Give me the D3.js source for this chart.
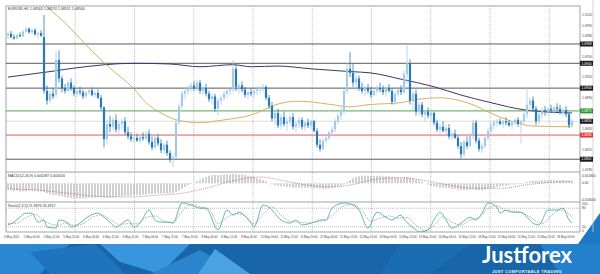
<!DOCTYPE html>
<html>
<head>
<meta charset="utf-8" />
<script src="https://cdn.jsdelivr.net/npm/d3@7"></script>
<style>
  body { margin: 0; background: #fff; }
  svg { display: block; font-family: "Liberation Sans", "DejaVu Sans", sans-serif; }
</style>
</head>
<body>
<div id="chart"></div>
<script>
// ---- data (candle prices in pips above 1.0800) ----
var BASE = 1.0800, PIP = 0.0001;

var bars = [
  [180,186,175,183],[183,187,176,178],[178,182,174,176],[176,183,175,181],[181,185,178,179],[179,188,178,186],
  [186,193,184,190],[190,192,183,185],[185,190,182,188],[188,191,180,182],[182,186,176,184],[184,188,178,180],
  [178,210,96,100],[100,108,80,86],[86,100,82,96],[96,104,88,92],[95,158,90,145],[145,159,112,118],
  [118,122,98,104],[104,110,96,100],[100,116,98,112],[112,118,100,104],
  [104,108,92,96],[96,103,90,100],[100,106,94,98],[98,102,88,92],[92,100,90,98],[98,104,95,101],
  [101,105,92,94],[94,100,90,97],[97,102,88,90],
  [90,94,72,76],[76,78,18,30],[30,58,22,52],[52,64,40,48],[48,62,42,58],[58,66,40,44],[44,56,34,52],
  [52,60,44,56],[56,62,36,40],[40,48,30,34],
  [34,40,26,30],[30,36,24,32],[32,38,26,28],[28,35,24,33],[33,40,28,31],
  [31,42,28,38],[38,44,22,26],[26,34,14,18],[18,36,16,32],[32,38,20,24],[24,30,10,14],[14,26,8,22],
  [22,28,6,10],[10,14,-4,0],[2,8,-10,4],
  [4,58,2,54],[54,82,50,78],[78,100,74,96],[96,104,88,100],[100,108,94,104],[104,112,98,108],
  [108,114,100,104],[104,116,100,112],
  [112,116,96,100],[100,108,94,104],[104,110,92,96],[96,100,84,88],[88,96,80,92],[92,96,70,74],
  [74,90,64,86],[86,94,80,90],[90,100,86,96],[96,104,90,100],[100,106,94,102],
  [102,145,98,132],[132,138,100,106],[106,112,96,108],[108,114,98,102],
  [102,106,90,94],[94,100,88,98],[98,104,92,96],[96,102,90,100],[100,106,94,102],[102,108,96,104],
  [104,110,98,106],[106,108,86,90],[90,94,74,78],[78,84,56,60],[60,72,50,68],[68,74,46,50],
  [50,66,44,62],[62,70,48,52],[52,60,42,56],[56,66,50,62],[62,68,44,48],[48,56,40,52],
  [52,62,46,58],[58,62,44,48],[48,56,42,54],[54,60,46,50],[50,58,44,56],[56,58,40,42],
  [42,46,18,22],[22,30,12,16],[16,32,14,28],[28,36,24,32],[32,42,28,40],[40,48,34,44],
  [44,60,40,56],[56,68,52,64],[64,76,58,70],
  [70,104,66,100],[100,140,96,132],[132,156,120,126],[126,140,106,112],[112,124,100,118],
  [118,122,100,104],[104,112,96,100],[100,108,92,104],[104,110,96,100],
  [100,106,90,94],[94,104,92,100],[100,108,96,104],[104,112,98,102],[102,108,94,98],[98,106,92,104],
  [104,110,98,100],[100,104,80,84],[84,100,80,96],[96,106,92,102],[102,108,94,98],
  [98,130,96,124],[124,168,110,140],[140,146,80,86],[86,100,72,96],[96,102,64,70],[70,84,64,80],
  [80,84,62,66],[66,72,56,70],[70,76,60,64],[64,72,58,68],[68,70,50,54],
  [54,58,40,44],[44,52,36,48],[48,56,40,42],[42,50,34,46],[46,52,30,34],[34,42,28,38],
  [38,44,30,32],[32,36,16,20],[20,26,2,8],[8,30,4,26],[26,34,16,20],[20,40,18,36],
  [36,58,30,54],[54,58,24,28],[28,32,12,16],[16,24,10,20],[20,36,16,32],[32,46,28,42],
  [42,54,38,50],[50,58,44,54],
  [54,60,48,56],[56,60,50,52],[52,58,46,56],[56,62,50,54],[54,58,48,50],[50,56,44,54],
  [54,60,50,58],[58,62,48,52],
  [52,58,24,56],[56,70,50,66],[66,104,60,80],[80,90,70,86],[86,92,70,74],[74,78,50,56],
  [56,70,52,66],[66,76,60,72],
  [72,78,64,70],[70,76,64,74],[74,80,68,72],[72,78,66,76],[76,82,70,74],[74,80,66,68],
  [68,76,64,72],[72,78,62,66],[66,68,46,50],[50,60,48,56]
];

// moving averages, read at candle indices (pips above 1.0800)
var maFastAt = [12,13,21,27,34,42,46,51,57,64,72,81,90,96,101,108,114,120,131,137,144,153,164,175,188];
var maFast   = [226,222,190,162,133,103,83,68,57,54,58,65,81,85,84,80,77,80,83,88,90,83,62,49,48];
var maSlowAt = [0,14,22,42,54,64,75,81,90,101,114,121,131,142,151,160,173,188];
var maSlow   = [120,128,133,140,139,135,138,135,136,132,128,126,117,106,94,84,72,68];

// horizontal levels
var levels = [1.0968, 1.0940, 1.0904, 1.0801];
var greenLevel = 1.0871, redLevel = 1.0836;
var lastPrice = 1.0856;
var priceTicks = [1.0785,1.0800,1.0815,1.0830,1.0845,1.0860,1.0875,1.0890,1.0905,1.0920,1.0935,1.0950,1.0965,1.0980,1.0995,1.1010];

// MACD histogram, units of 0.0001
var macdHist = [-10,-11,-12,-12,-13, -13,-13,-12,-12,-12,-13,-13,
  -14,-16,-18,-19,-19,-20,-21,-22,-23, -24,-24,-24,-24,-24,-24,-23,-23,-23,-22,
  -22,-23,-23,-23, -22,-22,-21,-21,-20,-20,-20,-19,-19,-19,-18,
  -18,-17,-17,-17,-16,-16,-16,-16,-16,-16, -14,-12,-9,-6,-3,-1,1,3,
  5,8,10,12,13,13,13,13,14,14,14,15, 15,14,14,13,12,11,10,8,7,5,3,
  0,-2,-3,-4,-5,-5,-6,-6,-7,-7,-7,-7,-7,-7, -7,-8,-8,-8,-9,-9,-8,-7,-6,-5,-4,
  -2,2,5,8,10,11,12,12,12,12, 12,12,12,11,11,11,10,9,9,8, 9,10,9,8,6, 4,2,0,-2,-4,-5,
  -6,-7,-7,-8,-8,-9,-9,-10,-11,-11,-11,-10,-10,-11, -11,-11,-10,-9,-8,-7,-6,-5,-4,
  -4,-3,-2,-2,-1,-1, 1,2,3,4,4,4,5,5,5,5,5,5,5,5,4,4,3];
var macdSigAt = [0,10,20,30,40,50,58,66,75,84,92,100,108,115,122,131,138,146,155,165,172,180,188];
var macdSig   = [-9,-11,-16,-21,-22,-19,-16,-8,4,10,4,-3,-6,-2,6,9,5,-2,-8,-8,-3,1,3];

// stochastic
var stochKAt = [0,2,4,6,8,10,12,13,16,17,20,21,24,26,30,32,34,36,40,42,44,47,49,51,53,55,58,61,64,66,70,73,75,77,
  81,82,85,87,91,94,96,98,102,104,106,108,112,115,117,120,123,126,128,131,132,136,137,140,142,144,146,148,151,
  154,156,158,160,163,164,166,168,171,173,175,177,180,183,185,187,188];
var stochK   = [26,35,51,64,64,35,42,19,16,42,32,19,32,48,64,51,35,19,42,19,32,74,42,35,35,32,97,90,80,80,10,74,58,67,
  32,19,90,83,42,32,42,26,35,42,42,80,97,90,74,16,67,51,42,58,45,10,3,10,42,67,42,16,32,
  51,42,64,97,83,64,74,67,67,51,32,26,74,74,80,42,32];
var stochDAt = [0,3,6,9,12,14,17,19,22,25,28,31,34,37,40,43,46,49,52,55,58,61,64,67,70,73,76,79,82,85,88,91,94,97,
  100,103,106,109,112,115,118,121,124,127,130,133,136,139,142,145,148,151,154,157,160,163,166,169,172,175,178,181,184,187,188];
var stochD   = [30,32,50,60,40,30,25,32,25,30,50,58,45,28,30,30,50,55,38,34,70,92,84,78,30,50,62,55,30,60,84,58,38,35,
  32,36,42,65,88,92,72,38,48,55,48,50,25,8,25,52,35,26,42,50,80,88,72,70,62,45,30,55,74,62,50];

var timeLabels = ["4 May 2020","5 May 04:00","5 May 12:00","5 May 20:00","6 May 04:00","6 May 12:00","6 May 20:00",
  "7 May 04:00","7 May 12:00","7 May 20:00","8 May 04:00","8 May 12:00","8 May 20:00","11 May 04:00","11 May 12:00",
  "11 May 20:00","12 May 04:00","12 May 12:00","12 May 20:00","13 May 04:00","13 May 12:00","13 May 20:00",
  "14 May 04:00","14 May 12:00","14 May 20:00","15 May 04:00","15 May 12:00","15 May 20:00","18 May 04:00"];

// ---- layout ----
var width = 600, height = 274;
var L = 6, R = 580, AX = 593;
var mainTop = 6, mainBot = 172, macdBot = 202, stochBot = 232;

var svg = d3.select("#chart").append("svg")
  .attr("width", width).attr("height", height);

function price(v) { return BASE + v * PIP; }

var x = d3.scaleLinear().domain([0, bars.length - 1]).range([8, 572]);
var yP = d3.scaleLinear().domain([1.0785, 1.1010]).range([170.25, 15]);
var yM = d3.scaleLinear().domain([-0.0030, 0.0018]).range([202, 172]);
var yS = d3.scaleLinear().domain([0, 100]).range([233, 202]);
var xLab = d3.scaleLinear().domain([0, timeLabels.length - 1]).range([4, 557]);

var defs = svg.append("defs");
function clip(id, y0, y1) {
  defs.append("clipPath").attr("id", id).append("rect")
    .attr("x", L).attr("y", y0).attr("width", R - L).attr("height", y1 - y0);
}
clip("cMain", mainTop, mainBot);
clip("cMacd", mainBot, macdBot);
clip("cStoch", macdBot, stochBot);

// background banner
var banner = svg.append("g");
banner.append("rect").attr("x", 0).attr("y", 244).attr("width", width).attr("height", 30).attr("fill", "#1866a9");
var facets = [
  ["#2a88d2", [[0,244],[70,244],[40,274],[0,274]]],
  ["#1f74bd", [[30,252],[95,244],[125,274],[50,274]]],
  ["#3996dc", [[100,244],[190,244],[160,274],[120,262]]],
  ["#2b84cc", [[150,274],[200,250],[240,274]]],
  ["#4aa2e0", [[198,274],[215,249],[250,274]]],
  ["#1b6db2", [[400,244],[470,244],[430,274],[380,274]]],
  ["#2380cc", [[540,244],[600,244],[600,274],[560,274]]],
  ["#1f78c4", [[578,244],[600,213],[600,244]]]
];
facets.forEach(function(f) {
  banner.append("polygon").attr("points", f[1].join(" ")).attr("fill", f[0]);
});
banner.append("text").attr("x", 482).attr("y", 263).attr("fill", "#fff")
  .style("font-family", "Lato, 'Open Sans', sans-serif").style("font-weight", 700)
  .style("font-size", "22px").text("Justforex");
banner.append("text").attr("x", 492).attr("y", 272.5).attr("fill", "#e8f2fb")
  .style("font-size", "4px").style("font-weight", 700).style("letter-spacing", "0.35px")
  .text("JUST COMFORTABLE TRADING");

// frames
var frame = svg.append("g").attr("fill", "none").attr("stroke", "#8c8c8c").attr("stroke-width", 0.8);
frame.append("rect").attr("x", L).attr("y", mainTop).attr("width", R - L).attr("height", stochBot - mainTop);
[mainBot, macdBot].forEach(function(yy) {
  frame.append("line").attr("x1", L).attr("x2", R).attr("y1", yy).attr("y2", yy);
});
frame.append("line").attr("x1", AX).attr("x2", AX).attr("y1", 0).attr("y2", stochBot).attr("stroke", "#c8c8c8");

// vertical grid
var gridIdx = d3.range(3, timeLabels.length, 3);
svg.append("g").selectAll("line").data(gridIdx).enter().append("line")
  .attr("x1", function(k) { return xLab(k) + 12; })
  .attr("x2", function(k) { return xLab(k) + 12; })
  .attr("y1", mainTop).attr("y2", stochBot)
  .attr("stroke", "#9a9a9a").attr("stroke-width", 0.6).attr("stroke-dasharray", "1,1");

// ---- main panel ----
var main = svg.append("g").attr("clip-path", "url(#cMain)");

main.selectAll(".lvl").data(levels).enter().append("line")
  .attr("x1", L).attr("x2", R)
  .attr("y1", function(d) { return yP(d); }).attr("y2", function(d) { return yP(d); })
  .attr("stroke", "#5a5a5a").attr("stroke-width", 1);
main.append("line").attr("x1", L).attr("x2", R).attr("y1", yP(greenLevel)).attr("y2", yP(greenLevel))
  .attr("stroke", "#3f9a3f").attr("stroke-width", 0.9);
main.append("line").attr("x1", L).attr("x2", R).attr("y1", yP(redLevel)).attr("y2", yP(redLevel))
  .attr("stroke", "#e24545").attr("stroke-width", 0.9);
main.append("line").attr("x1", L).attr("x2", R).attr("y1", yP(lastPrice)).attr("y2", yP(lastPrice))
  .attr("stroke", "#c4c4c4").attr("stroke-width", 0.6);

var maLine = d3.line().curve(d3.curveMonotoneX)
  .x(function(d) { return x(d[0]); }).y(function(d) { return yP(price(d[1])); });
main.append("path").datum(d3.zip(maSlowAt, maSlow)).attr("d", maLine)
  .attr("fill", "none").attr("stroke", "#3b3668").attr("stroke-width", 1);
main.append("path").datum(d3.zip(maFastAt, maFast)).attr("d", maLine)
  .attr("fill", "none").attr("stroke", "#d2a94e").attr("stroke-width", 0.9);

var cg = main.selectAll(".c").data(bars).enter().append("g");
function col(d) { return d[3] >= d[0] ? "#a4cae9" : "#2a79b6"; }
cg.append("line")
  .attr("x1", function(d, i) { return x(i); }).attr("x2", function(d, i) { return x(i); })
  .attr("y1", function(d) { return yP(price(d[1])); }).attr("y2", function(d) { return yP(price(d[2])); })
  .attr("stroke", col).attr("stroke-width", 0.8);
cg.append("rect")
  .attr("x", function(d, i) { return x(i) - 1.1; }).attr("width", 2.2)
  .attr("y", function(d) { return yP(price(Math.max(d[0], d[3]))); })
  .attr("height", function(d) { return Math.max(0.8, Math.abs(yP(price(d[0])) - yP(price(d[3])))); })
  .attr("fill", col);

svg.append("text").attr("x", 8).attr("y", 10).attr("fill", "#333").style("font-size", "3.6px")
  .text("EURUSD,H1  1.08563 1.08574 1.08551 1.08566");

// price axis
var tags = levels.concat([greenLevel, redLevel, lastPrice]);
var axisG = svg.append("g").style("font-size", "3.3px");
axisG.selectAll(".pt").data(priceTicks.filter(function(t) {
    return tags.every(function(v) { return Math.abs(yP(t) - yP(v)) > 4.6; });
  })).enter().append("text")
  .attr("x", 582).attr("y", function(d) { return yP(d) + 1.2; })
  .attr("fill", "#444").text(function(d) { return d.toFixed(4); });
function tag(v, fill) {
  axisG.append("rect").attr("x", 580).attr("y", yP(v) - 2.5).attr("width", 13).attr("height", 5).attr("fill", fill);
  axisG.append("text").attr("x", 581.5).attr("y", yP(v) + 1.2).attr("fill", "#fff").text(v.toFixed(4));
}
levels.forEach(function(v) { tag(v, "#1a1a1a"); });
tag(greenLevel, "#2f9b2f");
tag(redLevel, "#e03a3a");
tag(lastPrice, "#1a1a1a");

// ---- MACD ----
var macd = svg.append("g").attr("clip-path", "url(#cMacd)");
macd.selectAll("line").data(macdHist).enter().append("line")
  .attr("x1", function(d, i) { return x(i); }).attr("x2", function(d, i) { return x(i); })
  .attr("y1", yM(0)).attr("y2", function(d) { return yM(d * PIP); })
  .attr("stroke", "#8a8a8a").attr("stroke-width", 0.8);
macd.append("path").datum(d3.zip(macdSigAt, macdSig))
  .attr("d", d3.line().curve(d3.curveMonotoneX)
    .x(function(d) { return x(d[0]); }).y(function(d) { return yM(d[1] * PIP); }))
  .attr("fill", "none").attr("stroke", "#c05a5a").attr("stroke-width", 0.7).attr("stroke-dasharray", "1,1");
svg.append("text").attr("x", 8).attr("y", 176.5).attr("fill", "#333").style("font-size", "3.6px")
  .text("MACD(12,26,9) 0.000287 0.000556");
axisG.append("text").attr("x", 582).attr("y", 177).attr("fill", "#444").text("0.001800");
axisG.append("text").attr("x", 582).attr("y", yM(0) + 1.2).attr("fill", "#444").text("0.00");
axisG.append("text").attr("x", 581).attr("y", 201).attr("fill", "#444").text("-0.003000");

// ---- Stochastic ----
var st = svg.append("g").attr("clip-path", "url(#cStoch)");
[80, 20].forEach(function(v) {
  st.append("line").attr("x1", L).attr("x2", R).attr("y1", yS(v)).attr("y2", yS(v))
    .attr("stroke", "#8a8a8a").attr("stroke-width", 0.6).attr("stroke-dasharray", "1,1");
});
var sLine = d3.line().curve(d3.curveMonotoneX)
  .x(function(d) { return x(d[0]); }).y(function(d) { return yS(d[1]); });
st.append("path").datum(d3.zip(stochDAt, stochD)).attr("d", sLine)
  .attr("fill", "none").attr("stroke", "#9a9a9a").attr("stroke-width", 0.7).attr("stroke-dasharray", "2,1");
st.append("path").datum(d3.zip(stochKAt, stochK)).attr("d", sLine)
  .attr("fill", "none").attr("stroke", "#3aa89e").attr("stroke-width", 0.8);
svg.append("text").attr("x", 8).attr("y", 206.5).attr("fill", "#333").style("font-size", "3.6px")
  .text("Stoch(5,3,3) 21.9876 26.4917");
[100, 80, 20, 0].forEach(function(v) {
  axisG.append("text").attr("x", 582).attr("y", yS(v) + (v === 100 ? 2.8 : v === 0 ? -0.8 : 1.2))
    .attr("fill", "#444").text(v);
});

// time axis
svg.append("g").selectAll("text").data(timeLabels).enter().append("text")
  .attr("x", function(d, i) { return xLab(i); }).attr("y", 238)
  .attr("fill", "#444").style("font-size", "2.9px").text(function(d) { return d; });
</script>
</body>
</html>
